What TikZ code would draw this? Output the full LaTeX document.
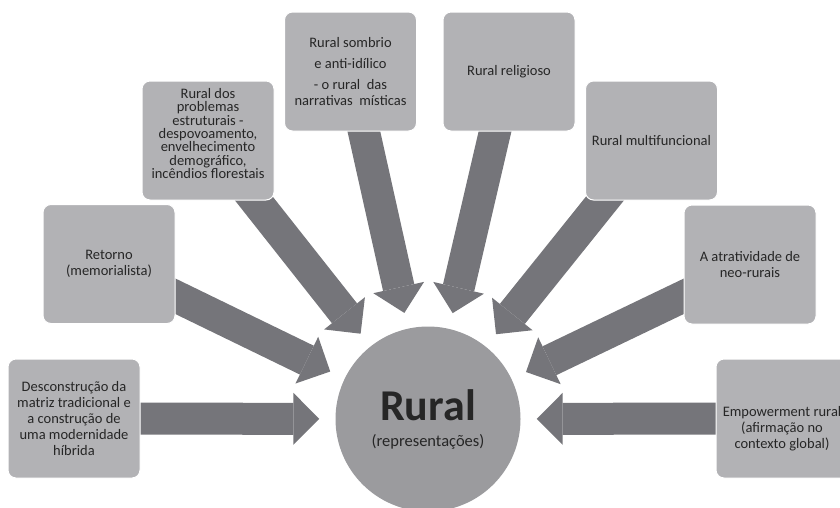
\documentclass[tikz,border=0pt]{standalone}
\usepackage{fontspec}
\setmainfont{Carlito}
\usetikzlibrary{arrows.meta}
\pgfdeclarelayer{background}
\pgfsetlayers{background,main}
\definecolor{boxgray}{HTML}{B2B2B5}
\definecolor{arrowgray}{HTML}{75757A}
\definecolor{circlegray}{HTML}{9B9B9E}
\definecolor{textgray}{HTML}{262626}
\tikzset{
  box/.style={rectangle, rounded corners=8pt, fill=boxgray, draw=white, line width=1pt,
    minimum width=132pt, minimum height=119pt, inner sep=2pt, align=center,
    text=textgray, font=\fontsize{14.5}{16}\selectfont},
  boxtext/.style={inner sep=0pt, align=center, text=textgray, font=\fontsize{14.5}{16}\selectfont},
  bigarrow/.style={draw=arrowgray, line width=32pt,
    -{Triangle[length=26pt,width=52pt,line width=0pt]}, shorten >=16pt}
}
\begin{document}
\begin{tikzpicture}[x=1pt,y=-1pt]
\useasboundingbox (0,0) rectangle (840,507);

\node[circle, fill=circlegray, minimum size=185pt, inner sep=0pt, align=center,
  text=textgray, font=\fontsize{16.5}{26}\selectfont] (rural) at (428,419)
  {{\fontsize{44}{26}\selectfont\bfseries Rural}\\(representações)};

\node[box] (desc) at (74,418.5) {Desconstrução da\\matriz tradicional e\\a construção de\\uma modernidade\\híbrida};
\node[box] (retorno) at (109,264) {Retorno\\(memorialista)};
\node[box] (problemas) at (208,140.5) {};
\node[boxtext, font=\fontsize{14.5}{13.4}\selectfont] (problemastext) at ([yshift=7pt]problemas.center)
  {Rural dos\\problemas\\estruturais -\\despovoamento,\\envelhecimento\\demográfico,\\incêndios florestais};
\node[box] (sombrio) at (350.5,71.5) {Rural sombrio\\[5pt]e anti-idílico\\[5pt]- o rural~ das\\narrativas~ místicas};
\node[box] (religioso) at (509,71.5) {Rural religioso};
\node[box] (multi) at (651.5,140.5) {Rural multifuncional};
\node[box] (atrat) at (750,264.5) {A atratividade de\\neo-rurais};
\node[box] (empow) at (782,418.5) {};
\node[boxtext] (empowtext) at ([yshift=-10pt]empow.center) {Empowerment rural\\(afirmação no\\contexto global)};

% arrows behind the boxes
\begin{pgfonlayer}{background}
\foreach \b in {desc,retorno,problemas,sombrio,religioso,multi,atrat,empow} {
  \draw[bigarrow] (\b.center) -- (rural);
}
\end{pgfonlayer}
\end{tikzpicture}
\end{document}
